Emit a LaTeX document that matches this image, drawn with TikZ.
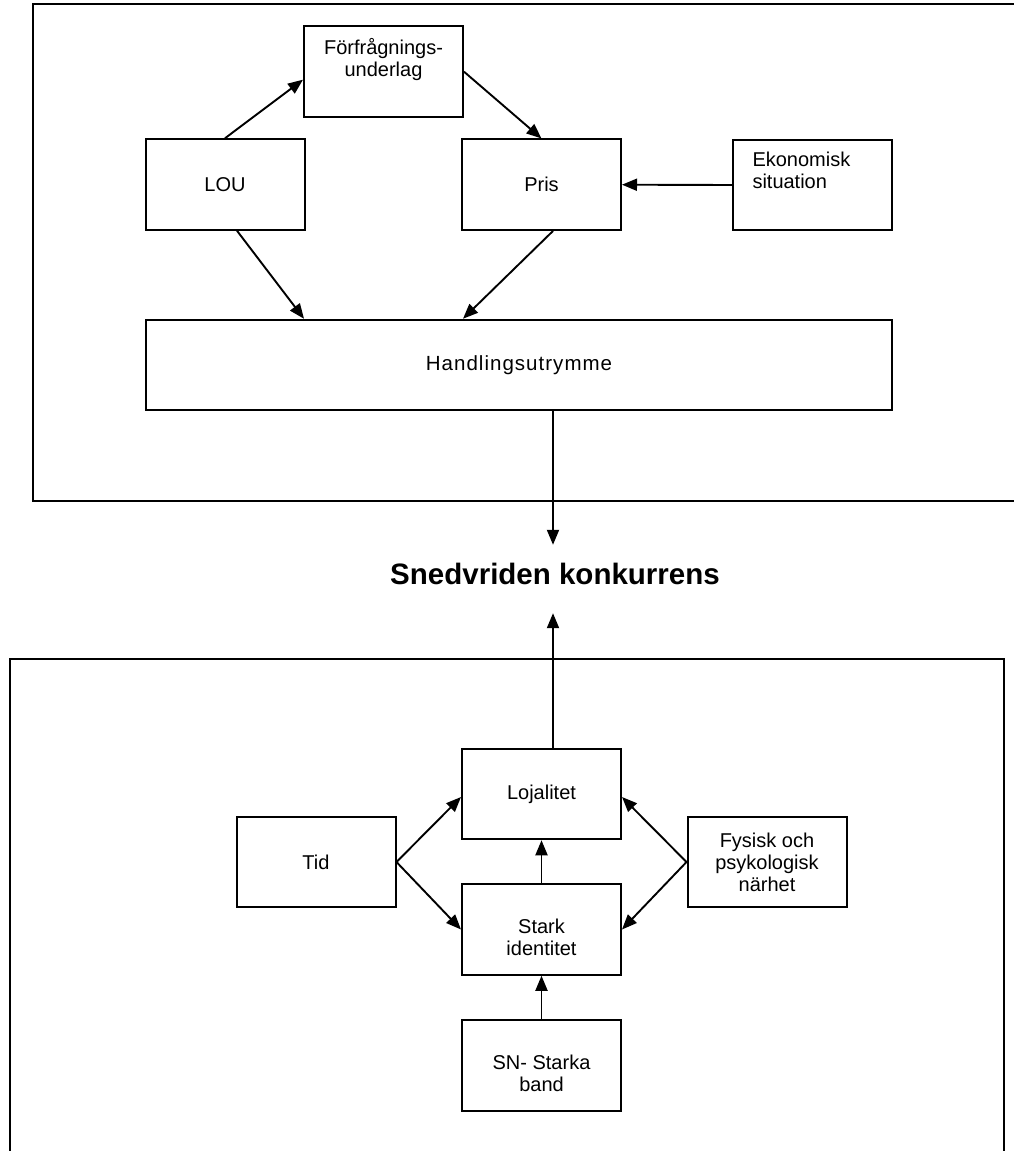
\documentclass[tikz,border=0pt]{standalone}
\usepackage{fontspec}
\setmainfont{Liberation Sans}
\usetikzlibrary{arrows.meta}
\begin{document}
\begin{tikzpicture}[x=1pt,y=-1pt,
  box/.style={draw, line width=2pt, minimum width=159pt, minimum height=90.5pt,
    inner sep=0pt, align=center, font=\fontsize{20}{22}\selectfont},
  frame/.style={draw, line width=2pt},
  arr/.style={line width=1.9pt, -{Triangle[length=15pt,width=12pt]}}]
\useasboundingbox (0,0) rectangle (1013,1151);

% outer frames
\draw[frame] (33,4) rectangle (1030,500.5);
\draw[frame] (10,659) rectangle (1004,1170);

% upper group
\node[box] (fu) at (383.5,71.7) {Förfrågnings-\\underlag\\\strut};
\node[box] (lou) at (225,184.5) {LOU};
\node[box] (pris) at (541.5,184.7) {Pris};
\node[box, align=left, text width=120pt] (ek) at (812.5,185) {Ekonomisk\\situation\\\strut};
\node[box, minimum width=746pt] (h) at (519,365) {\addfontfeature{LetterSpace=5}\fontsize{20.5}{22}\selectfont Handlingsutrymme};

% central statement
\node[anchor=base, inner sep=0pt, text height=39pt, text depth=29pt,
  font=\fontsize{29.5}{33}\selectfont\bfseries] (sk) at (555,584) {Snedvriden konkurrens};
\coordinate (ax) at (553,0);

% lower group
\node[box] (loj) at (541.5,794) {Lojalitet};
\node[box] (stark) at (541.5,929.5) {\strut\\Stark\\identitet\strut};
\node[box] (sn) at (541.5,1065.5) {\strut\\SN- Starka\\band\strut};
\node[box] (tid) at (316,862) {Tid};
\node[box] (fys) at (767,862) {Fysisk och\\psykologisk\\närhet};

% connectors, upper group
\draw[arr] (lou.north) -- ([yshift=-8pt]fu.west);
\draw[arr] (fu.east) -- (pris.north);
\draw[arr] (ek.west) -- (pris.east);
\draw[arr] ([xshift=12pt]lou.south) -- ([xshift=-215pt]h.north);
\draw[arr] ([xshift=11.5pt]pris.south) -- ([xshift=-56pt]h.north);
\draw[arr] (h.south -| ax) -- (ax |- sk.north);

% connectors, lower group
\draw[arr] (loj.north -| ax) -- (ax |- sk.south);
\draw[arr] (tid.east) -- ([yshift=-3pt]loj.west);
\draw[arr] (tid.east) -- (stark.west);
\draw[arr] (fys.west) -- ([yshift=-3pt]loj.east);
\draw[arr] (fys.west) -- (stark.east);
\draw[arr] (stark.north) -- (loj.south);
\draw[arr] (sn.north) -- (stark.south);
\end{tikzpicture}
\end{document}
